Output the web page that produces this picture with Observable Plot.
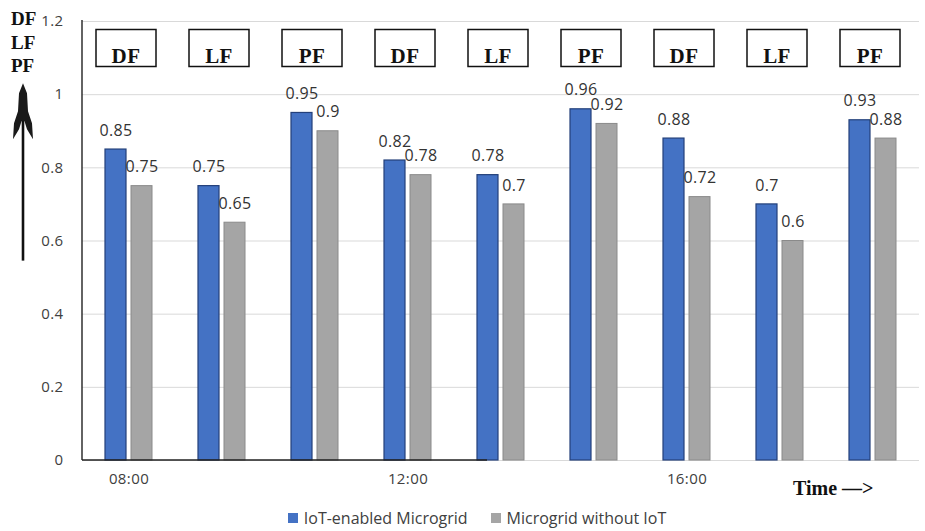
<!DOCTYPE html>
<html>
<head>
<meta charset="utf-8">
<script src="https://cdn.jsdelivr.net/npm/d3@7"></script>
<script src="https://cdn.jsdelivr.net/npm/@observablehq/plot@0.6"></script>
<style>
  body { margin: 0; background: #fff; }
  #chart { width: 925px; }
  .legend-row { display: flex; justify-content: center; margin-top: -4px; padding-left: 52px; }
  .lg-swatch { margin-right: 23px !important; }
  .lg-swatch > svg { margin-right: 6px !important; }
</style>
</head>
<body>
<div id="chart"></div>
<script>
// Time slots, the factor shown for each slot, and the two series of values
const factors = ["DF", "LF", "PF", "DF", "LF", "PF", "DF", "LF", "PF"];
const timeLabels = ["08:00", "", "", "12:00", "", "", "16:00", "", ""];
const series = ["IoT-enabled Microgrid", "Microgrid without IoT"];
const iotEnabled = [0.85, 0.75, 0.95, 0.82, 0.78, 0.96, 0.88, 0.70, 0.93];
const withoutIot = [0.75, 0.65, 0.90, 0.78, 0.70, 0.92, 0.72, 0.60, 0.88];
const yTicks = [0, 0.2, 0.4, 0.6, 0.8, 1, 1.2];
const colors = ["#4472c4", "#a5a5a5"];
const edges = ["#23407a", "#8a8a8a"];

const slots = d3.range(factors.length);
const rows = slots.flatMap(i => [
  {slot: i, series: series[0], value: iotEnabled[i]},
  {slot: i, series: series[1], value: withoutIot[i]}
]);
const factorRows = slots.map(i => ({slot: i, factor: factors[i]}));

const W = 925, H = 505, ML = 82, MR = 6, MT = 21, MB = 45;

const chart = Plot.plot({
  width: W,
  height: H,
  marginLeft: ML,
  marginRight: MR,
  marginTop: MT,
  marginBottom: MB,
  style: {fontFamily: "Open Sans, sans-serif", fontSize: "15px", letterSpacing: "0.4px", color: "#404040", background: "#fff"},
  fx: {
    domain: slots,
    paddingInner: 0,
    paddingOuter: 0,
    axis: "bottom",
    tickSize: 0,
    tickPadding: 13,
    tickFormat: i => timeLabels[i],
    label: null
  },
  x: {domain: series, axis: null, paddingInner: 0.2, paddingOuter: 0.876},
  y: {
    domain: [0, 1.2],
    ticks: yTicks,
    tickSize: 0,
    tickPadding: 19,
    tickFormat: d => String(d),
    label: null
  },
  marks: [
    Plot.ruleY(yTicks, {stroke: "#d9d9d9", strokeWidth: 1}),
    Plot.barY(rows.filter(d => d.series === series[0]), {
      fx: "slot", x: "series", y: "value",
      fill: colors[0], stroke: edges[0], strokeWidth: 1.2
    }),
    Plot.barY(rows.filter(d => d.series === series[1]), {
      fx: "slot", x: "series", y: "value",
      fill: colors[1], stroke: edges[1], strokeWidth: 1
    }),
    Plot.text(rows, {
      fx: "slot", x: "series", y: "value",
      text: d => String(d.value),
      dy: -19, fontSize: 16, fill: "#333"
    }),
    Plot.frame({
      stroke: "#111", strokeWidth: 1.5, fill: "#fff",
      insetTop: 8, insetBottom: 394, insetLeft: 13.5, insetRight: 19.5
    }),
    Plot.text(factorRows, {
      fx: "slot", text: "factor", frameAnchor: "top",
      dy: 27, dx: -3,
      fontFamily: "Liberation Serif, serif", fontWeight: "bold", fontSize: 21, fill: "#111"
    })
  ]
});

// Axis lines, the corner factor label with its arrow, and the time caption
const svg = d3.select(chart);
const yScale = chart.scale("y");
const y0 = yScale.apply(0), yTop = yScale.apply(1.2);
const deco = svg.append("g").attr("text-anchor", "start").attr("letter-spacing", 0);

deco.append("line")
  .attr("x1", ML).attr("x2", ML).attr("y1", yTop - 1).attr("y2", y0)
  .attr("stroke", "#222").attr("stroke-width", 1.4);
deco.append("line")
  .attr("x1", ML).attr("x2", 487).attr("y1", y0).attr("y2", y0)
  .attr("stroke", "#222").attr("stroke-width", 1.4);

const corner = deco.append("text")
  .attr("font-family", "Liberation Serif, serif")
  .attr("font-weight", "bold").attr("font-size", 19).attr("fill", "#111");
["DF", "LF", "PF"].forEach((t, k) => {
  corner.append("tspan").attr("x", 11).attr("y", 25 + k * 23.5).text(t);
});

const arrowTop = yScale.apply(1.03), arrowBottom = yScale.apply(0.545);
deco.append("line")
  .attr("x1", 23).attr("x2", 23).attr("y1", arrowTop + 30).attr("y2", arrowBottom)
  .attr("stroke", "#111").attr("stroke-width", 2.6);
deco.append("path")
  .attr("transform", `translate(23,${arrowTop})`)
  .attr("d", "M0,0 L4,10 L5,28 L9,40 L10,56 L4,46 L1.5,38 L-1.5,38 L-4,46 L-10,56 L-9,40 L-5,28 L-4,10 Z")
  .attr("fill", "#1a1a1a");

deco.append("text")
  .attr("x", 793).attr("y", 495)
  .attr("font-family", "Liberation Serif, serif")
  .attr("font-weight", "bold").attr("font-size", 20).attr("fill", "#111")
  .text("Time —>");

const root = document.getElementById("chart");
root.appendChild(chart);

const legendRow = document.createElement("div");
legendRow.className = "legend-row";
legendRow.appendChild(Plot.legend({
  color: {domain: series, range: colors},
  legend: "swatches",
  className: "lg",
  swatchSize: 10,
  style: {fontFamily: "Open Sans, sans-serif", fontSize: "16px", color: "#404040"}
}));
root.appendChild(legendRow);
</script>
</body>
</html>
